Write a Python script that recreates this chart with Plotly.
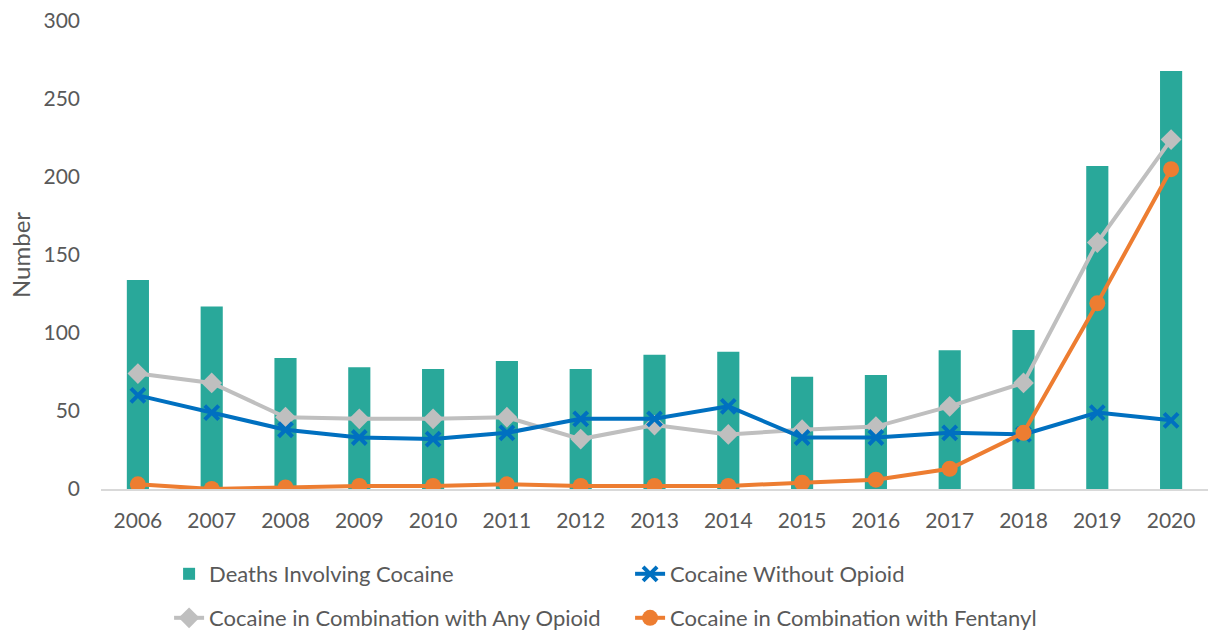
import plotly.graph_objects as go

years = ["2006", "2007", "2008", "2009", "2010", "2011", "2012", "2013",
         "2014", "2015", "2016", "2017", "2018", "2019", "2020"]
deaths_cocaine = [134, 117, 84, 78, 77, 82, 77, 86, 88, 72, 73, 89, 102, 207, 268]
without_opioid = [60, 49, 38, 33, 32, 36, 45, 45, 53, 33, 33, 36, 35, 49, 44]
any_opioid = [74, 68, 46, 45, 45, 46, 32, 41, 35, 38, 40, 53, 68, 158, 224]
fentanyl = [3, 0, 1, 2, 2, 3, 2, 2, 2, 4, 6, 13, 36, 119, 205]

FONT = "Lato, 'Open Sans', sans-serif"
TXT = "#595959"

fig = go.Figure()
fig.add_trace(go.Bar(x=years, y=deaths_cocaine, name="Deaths Involving Cocaine",
                     marker=dict(color="#29A89A", line=dict(width=0)),
                     width=0.3, legend="legend"))
fig.add_trace(go.Scatter(x=years, y=any_opioid, name="Cocaine in Combination with Any Opioid",
                         mode="lines+markers", line=dict(color="#BFBFBF", width=4),
                         marker=dict(symbol="diamond", size=16, color="#BFBFBF"),
                         legend="legend2"))
fig.add_trace(go.Scatter(x=years, y=without_opioid, name="Cocaine Without Opioid",
                         mode="lines+markers", line=dict(color="#0070C0", width=4),
                         marker=dict(symbol="x-thin", size=14, color="#0070C0",
                                     line=dict(color="#0070C0", width=4)),
                         legend="legend"))
fig.add_trace(go.Scatter(x=years, y=fentanyl, name="Cocaine in Combination with Fentanyl",
                         mode="lines+markers", line=dict(color="#ED7D31", width=4),
                         marker=dict(symbol="circle", size=16, color="#ED7D31"),
                         legend="legend2"))

legend_common = dict(orientation="h", xanchor="left", yanchor="middle",
                     yref="container",
                     font=dict(family=FONT, size=22, color=TXT),
                     entrywidth=416, itemwidth=30, bgcolor="rgba(0,0,0,0)",
                     traceorder="normal")

fig.update_layout(
    width=1208, height=633,
    margin=dict(l=101, r=0, t=21, b=144),
    plot_bgcolor="white", paper_bgcolor="white",
    font=dict(family=FONT, size=21, color=TXT),
    bargap=0.7,
    xaxis=dict(type="category", range=[-0.5, 14.5], showgrid=False,
               showline=True, linecolor="#D9D9D9", linewidth=2,
               ticks="", tickfont=dict(size=21, color=TXT),
               ticklabelstandoff=12),
    yaxis=dict(range=[0, 300], dtick=50, showgrid=False, zeroline=False,
               showline=False, ticks="", tickfont=dict(size=21, color=TXT),
               ticklabelstandoff=20,
               title=dict(text="Number", font=dict(size=24, color=TXT), standoff=6)),
    legend=dict(x=0.0615, y=1 - 574 / 633, **legend_common),
    legend2=dict(x=0.0615, y=1 - 618 / 633, **legend_common),
)

fig.write_html("out.html", config={"displayModeBar": False},
               post_script="document.body.style.margin='0';document.body.style.overflow='hidden';")
